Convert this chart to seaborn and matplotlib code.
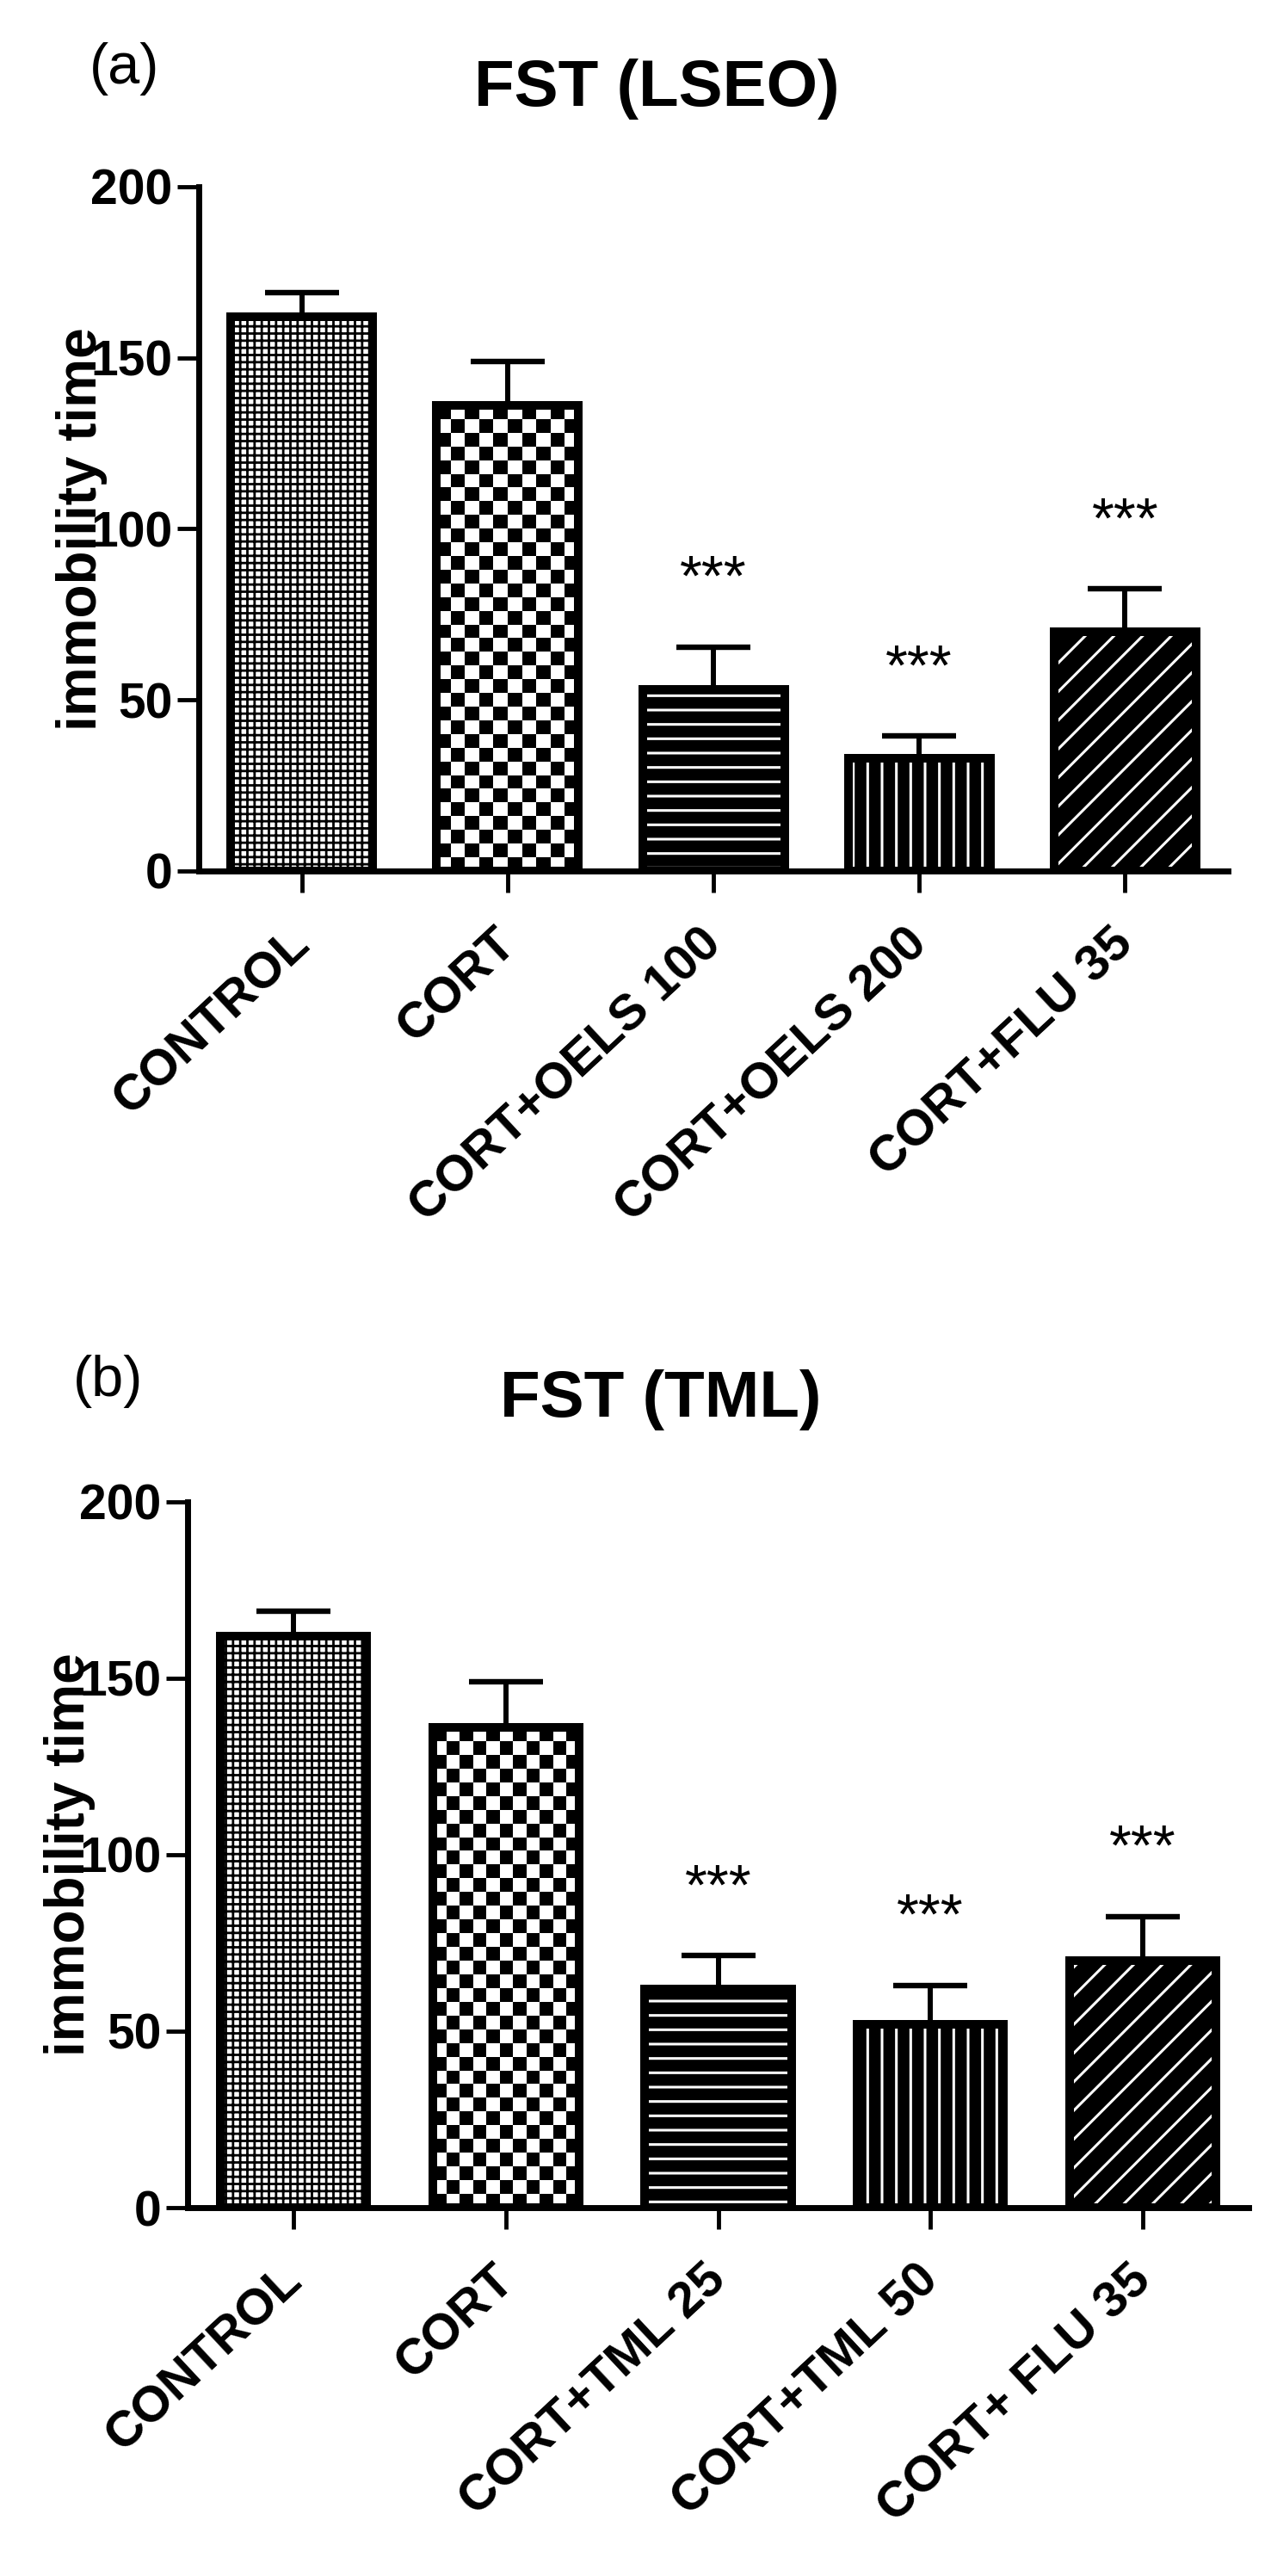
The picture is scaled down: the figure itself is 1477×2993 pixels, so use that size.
import numpy as np
import pandas as pd
import matplotlib
matplotlib.use("Agg")
import matplotlib.pyplot as plt
import matplotlib.patches as mpatches
import matplotlib.transforms as mtransforms
import seaborn as sns

# ---------------- data ----------------
groups_a = ["CONTROL", "CORT", "CORT+OELS 100", "CORT+OELS 200", "CORT+FLU 35"]
means_a = [162, 136, 53, 33, 70]
sem_a = [7, 13, 12.5, 6.5, 12.5]
stars_a = ["", "", "***", "***", "***"]

groups_b = ["CONTROL", "CORT", "CORT+TML 25", "CORT+TML 50", "CORT+ FLU 35"]
means_b = [162, 136, 62, 52, 70]
sem_b = [7, 13, 9.5, 11, 12.5]
stars_b = ["", "", "***", "***", "***"]

titles = ["FST (LSEO)", "FST (TML)"]
panel_tags = ["(a)", "(b)"]
y_label = "immobility time"
y_ticks = [0, 50, 100, 150, 200]

# ---------------- style ----------------
sns.set_theme(style="ticks")
plt.rcParams["font.family"] = ["Liberation Sans", "DejaVu Sans"]
plt.rcParams["hatch.linewidth"] = 2.0
for key in ("text.color", "axes.labelcolor", "xtick.color", "ytick.color",
            "axes.edgecolor"):
    plt.rcParams[key] = "black"

fig = plt.figure(figsize=(14.77, 29.93), dpi=100)
fig.patch.set_facecolor("white")

EDGE_LW = 7.2


def set_hlw(p, lw):
    if hasattr(p, "set_hatch_linewidth"):
        p.set_hatch_linewidth(lw)


def draw_panel(ax, groups, means, sems, stars):
    df = pd.DataFrame({"group": groups, "value": means})
    sns.barplot(data=df, x="group", y="value", order=groups, color="white",
                saturation=1, width=0.69, errorbar=None, ax=ax, zorder=3,
                linewidth=EDGE_LW, edgecolor="black")
    ax.set_xlim(-0.5, 4.5)
    ax.set_ylim(0, 200)
    bars = list(ax.containers[0])
    xs = [b.get_x() + b.get_width() / 2 for b in bars]

    # error bars (upper only; lower cap hidden under the bar edge)
    ax.errorbar(xs, means, yerr=[np.zeros(len(means)), sems], fmt="none",
                ecolor="black", elinewidth=4.3, capsize=31, capthick=4.6,
                zorder=2)

    # 0: fine grid
    b = bars[0]
    b.set_facecolor("white")
    b.set_hatch("++")
    set_hlw(b, 2.0)

    # 1: checkerboard
    b = bars[1]
    x0, w, h = b.get_x(), b.get_width(), b.get_height()
    p0 = ax.transData.transform((x0, 0))
    p1 = ax.transData.transform((x0 + w, h))
    nx = max(1, int(round((p1[0] - p0[0]) / 16.0)))
    ny = max(1, int(round((p1[1] - p0[1]) / 16.0)))
    checker = np.add.outer(np.arange(ny), np.arange(nx)) % 2
    im = ax.imshow(checker, cmap="gray", vmin=0, vmax=1,
                   extent=(x0, x0 + w, 0, h), origin="upper",
                   interpolation="nearest", aspect="auto", zorder=3.1)
    im.set_clip_path(b)

    # 2, 3, 4: black with thin white lines
    for idx, hatch, hlw in ((2, "-", 2.2), (3, "|", 2.2), (4, "/", 2.2)):
        b = bars[idx]
        b.set_facecolor("black")
        ov = mpatches.Rectangle((b.get_x(), 0), b.get_width(), b.get_height(),
                                facecolor="none", edgecolor="white",
                                hatch=hatch, linewidth=0, zorder=3.1)
        set_hlw(ov, hlw)
        ax.add_patch(ov)

    # outlines on top
    for b in bars:
        ax.add_patch(mpatches.Rectangle((b.get_x(), 0), b.get_width(),
                                        b.get_height(), facecolor="none",
                                        edgecolor="black", linewidth=EDGE_LW,
                                        zorder=3.3))

    # significance stars
    for i, s in enumerate(stars):
        if s:
            ax.annotate(s, xy=(xs[i], means[i] + sems[i]), xytext=(0, 43),
                        textcoords="offset points", ha="center",
                        va="baseline", fontsize=48, color="black")

    ax.set_xlim(-0.5, 4.5)
    ax.set_ylim(0, 200)

    # axes styling
    ax.spines[["top", "right"]].set_visible(False)
    for sp in ("left", "bottom"):
        ax.spines[sp].set_linewidth(5.0)
        ax.spines[sp].set_color("black")
    ax.tick_params(axis="both", direction="out", length=18, width=3.5,
                   color="black")
    ax.tick_params(axis="y", pad=4)
    ax.tick_params(axis="x", pad=45)
    ax.set_yticks(y_ticks)
    ax.set_yticklabels([str(t) for t in y_ticks], fontsize=41,
                       fontweight="bold")
    ax.set_xticks(range(len(groups)))
    ax.set_xticklabels(groups, rotation=43, ha="right", va="baseline",
                       rotation_mode="anchor", fontsize=42, fontweight="bold")
    offset = mtransforms.ScaledTranslation(0.12, 0, fig.dpi_scale_trans)
    for lbl in ax.get_xticklabels():
        lbl.set_transform(lbl.get_transform() + offset)
    ax.set_xlabel("")
    ax.set_ylabel(y_label, fontsize=46, fontweight="bold")
    ax.set_facecolor("white")
    ax.grid(False)


ax_a = fig.add_axes([0.1564, 0.6619, 0.8098, 0.2656])
draw_panel(ax_a, groups_a, means_a, sem_a, stars_a)
ax_a.yaxis.set_label_coords(-0.0886, 0.5)

ax_b = fig.add_axes([0.1476, 0.1430, 0.8348, 0.2740])
draw_panel(ax_b, groups_b, means_b, sem_b, stars_b)
ax_b.yaxis.set_label_coords(-0.0868, 0.5)

fig.text(0.5166, 0.9589, titles[0], ha="center", va="baseline", fontsize=55,
         fontweight="bold")
fig.text(0.0704, 0.9676, panel_tags[0], ha="left", va="baseline", fontsize=48)
fig.text(0.5200, 0.4501, titles[1], ha="center", va="baseline", fontsize=55,
         fontweight="bold")
fig.text(0.0575, 0.4581, panel_tags[1], ha="left", va="baseline", fontsize=48)

fig.savefig("out.png", dpi=100, facecolor="white")
